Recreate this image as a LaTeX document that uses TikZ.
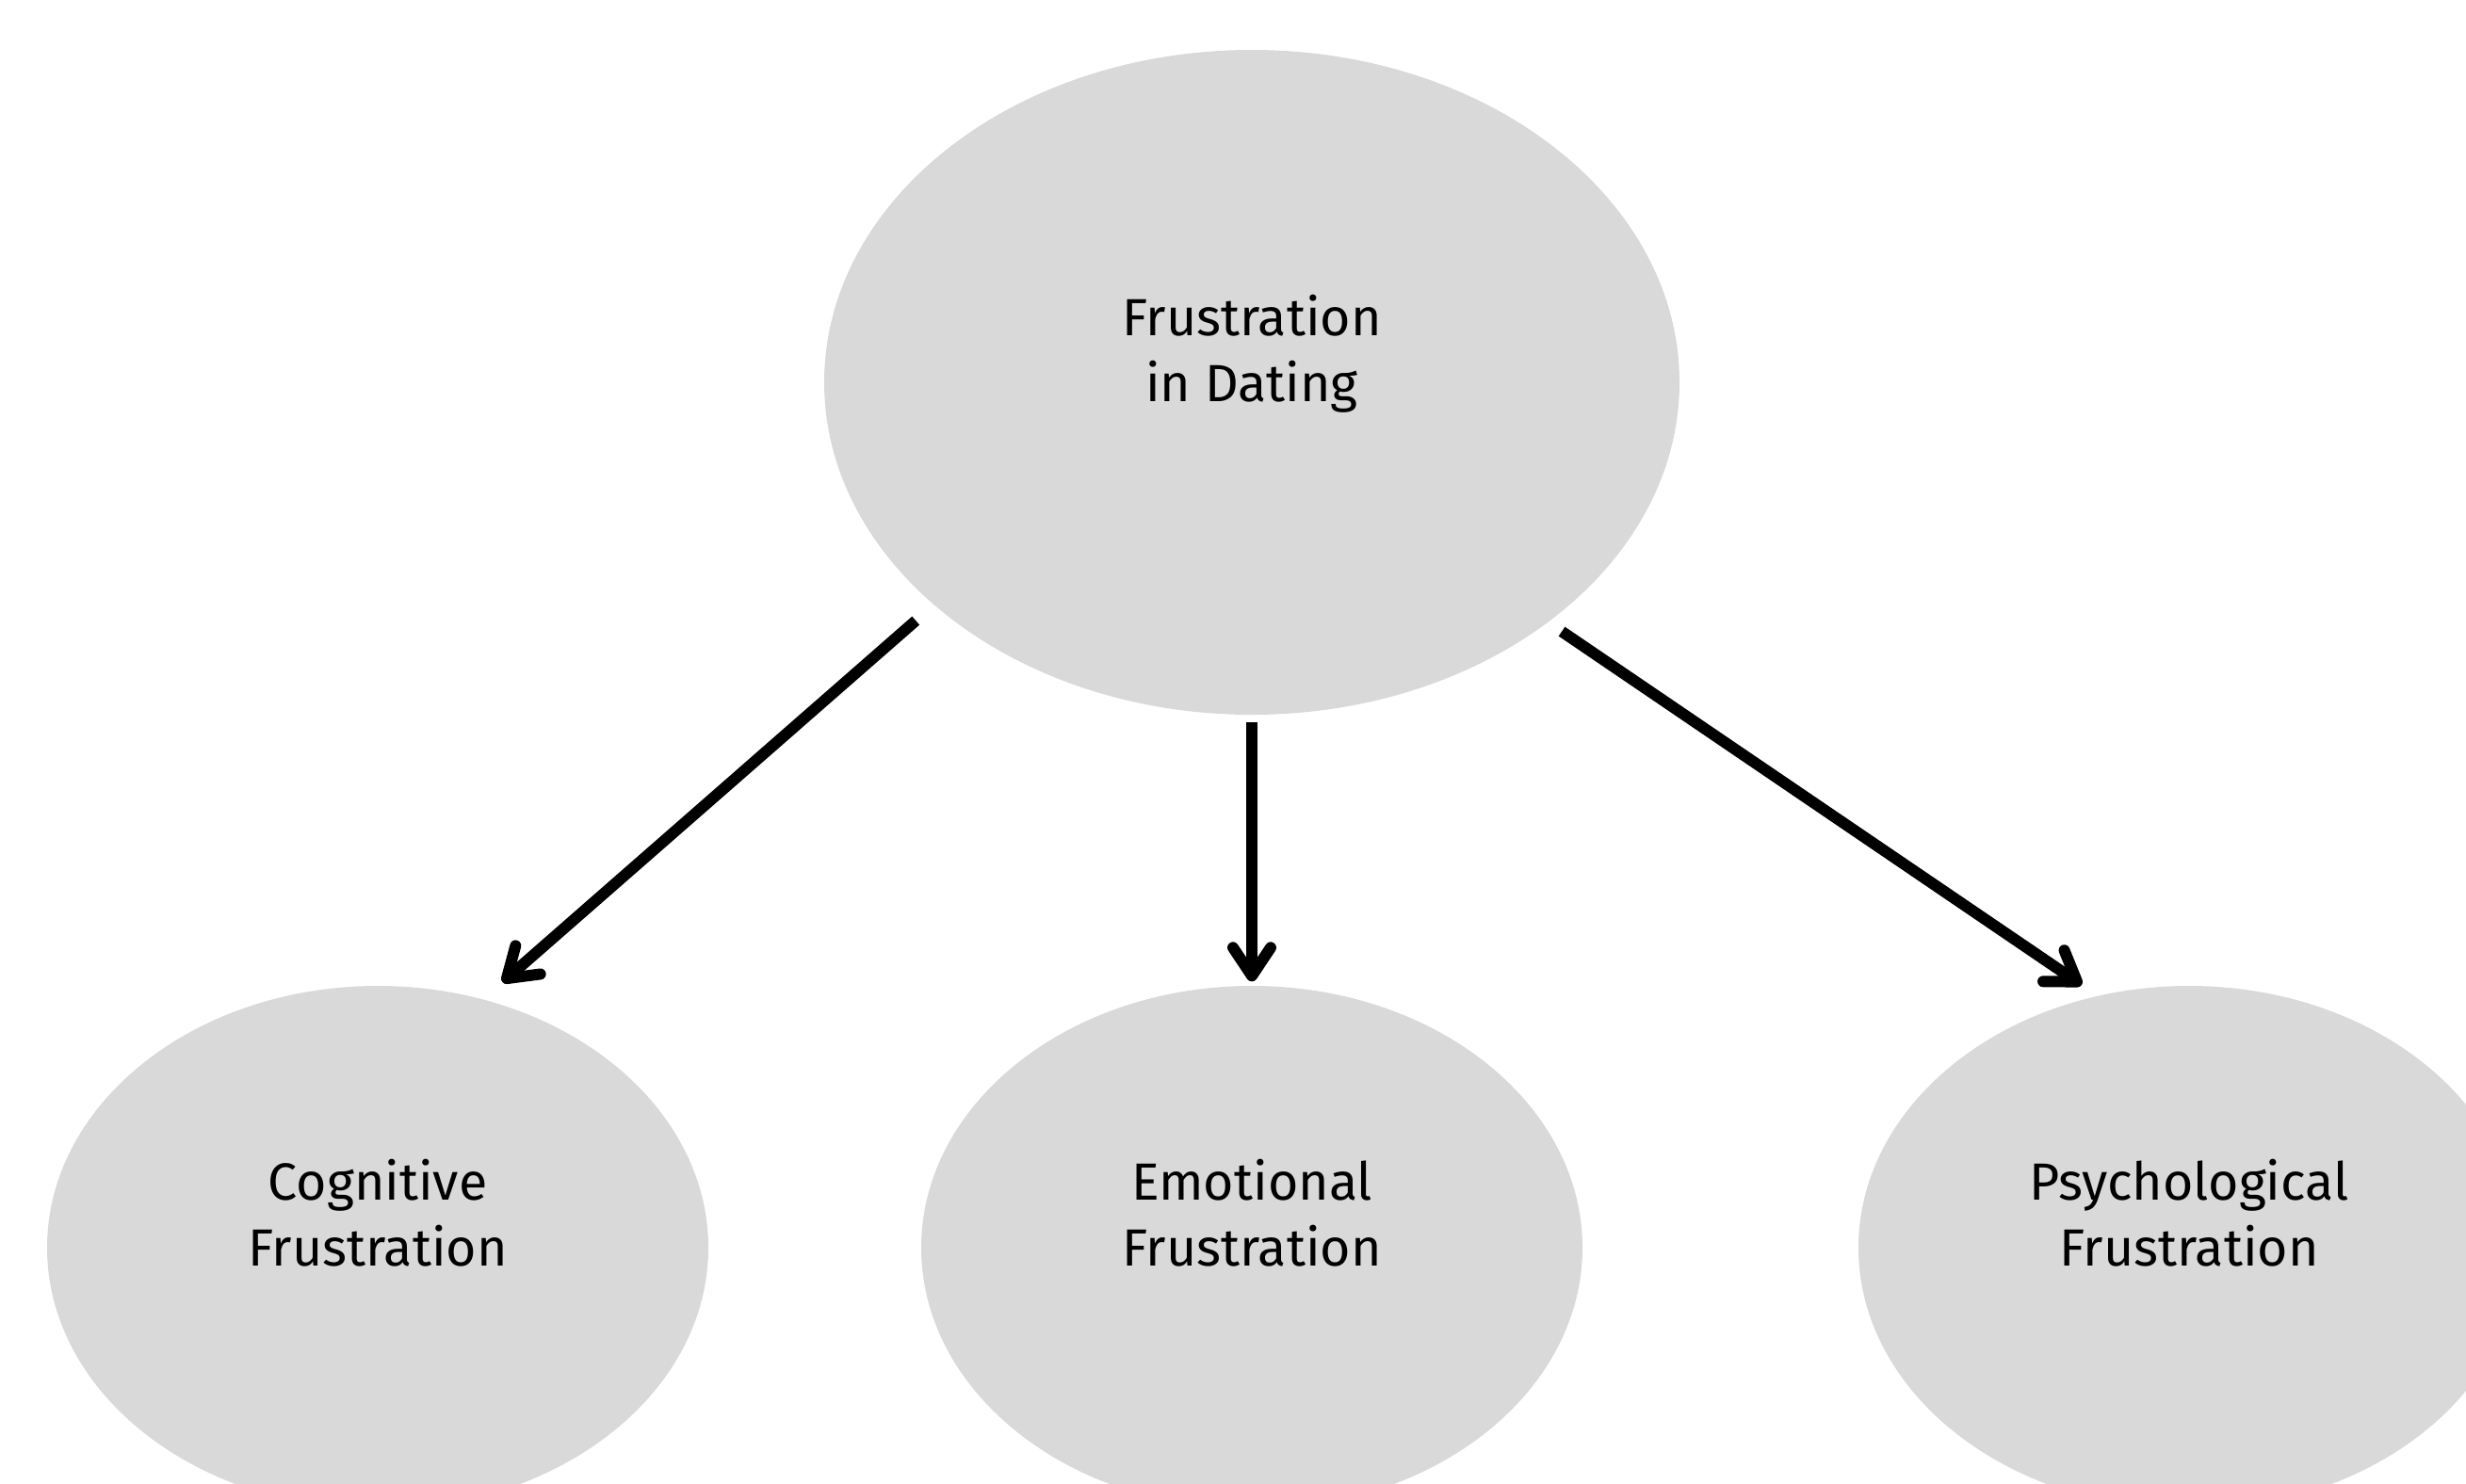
\documentclass[tikz,border=0pt]{standalone}
\usepackage{fontspec}
\setmainfont{Fira Sans}[Ligatures = NoCommon]
\usepackage{tikz}
\usetikzlibrary{shapes.geometric}
\usetikzlibrary{arrows.meta}
\definecolor{blobgrey}{RGB}{217,217,217}
\tikzstyle{frustration_blob} = [ellipse, fill = blobgrey, draw = none, inner sep = 0]
\tikzstyle{top_blob} = [frustration_blob, minimum width = 9.08cm, minimum height = 7.06cm]
\tikzstyle{sub_blob} = [frustration_blob, minimum width = 7.02cm, minimum height = 5.56cm]
\tikzstyle{blob_text} = [align = center, inner sep = 0, font = \fontsize{15.8}{19.9}\selectfont]
\tikzstyle{blob_arrow} = [line width = 3.4pt, -{Straight Barb[round, length = 3mm, width = 4mm]}]

\begin{document}
\begin{tikzpicture}
    \useasboundingbox (0, 0) rectangle (26.18, -15.75);
    \node [style = {top_blob}] (dating) at (13.29, -4.06) {};
    \node [style = {sub_blob}] (cognitive) at (4.01, -13.25) {};
    \node [style = {sub_blob}] (emotional) at (13.29, -13.25) {};
    \node [style = {sub_blob}] (psychological) at (23.24, -13.25) {};
    \node [style = {blob_text}] (dating_text) at (13.29, -3.76) {Frustration\\in Dating};
    \node [style = {blob_text}] (cognitive_text) at (4.01, -12.88) {Cognitive\\Frustration};
    \node [style = {blob_text}] (emotional_text) at (13.29, -12.88) {Emotional\\Frustration};
    \node [style = {blob_text}] (psychological_text) at (23.24, -12.88) {Psychological\\Frustration};
    \draw [style = {blob_arrow}, shorten <= 0.25cm, shorten >= 0.27cm] (dating.215.8) -- (cognitive.67.5);
    \draw [style = {blob_arrow}, shorten <= 0.07cm, shorten >= 0.04cm] (dating.south) -- (emotional.north);
    \draw [style = {blob_arrow}, shorten <= 0.17cm, shorten >= 0.2cm] (dating.321.6) -- (psychological.110.6);
\end{tikzpicture}
\end{document}
